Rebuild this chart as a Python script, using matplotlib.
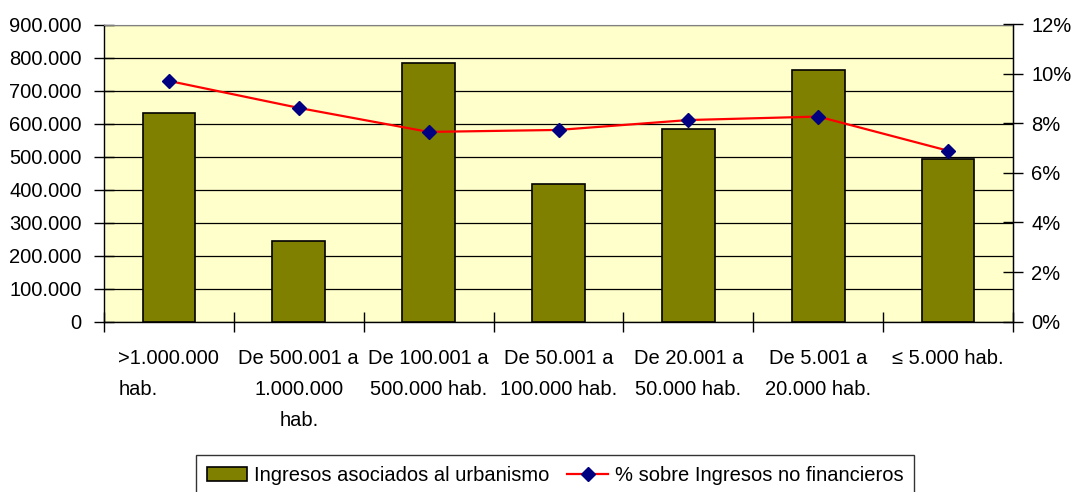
import matplotlib
matplotlib.use("Agg")
import matplotlib.pyplot as plt
import numpy as np
from matplotlib.ticker import FuncFormatter, MultipleLocator

categories = [
    ">1.000.000\nhab.",
    "De 500.001 a\n1.000.000\nhab.",
    "De 100.001 a\n500.000 hab.",
    "De 50.001 a\n100.000 hab.",
    "De 20.001 a\n50.000 hab.",
    "De 5.001 a\n20.000 hab.",
    "≤ 5.000 hab.",
]
ingresos = [631000, 244000, 783000, 417000, 583000, 761000, 491000]
pct_no_fin = [9.72, 8.63, 7.66, 7.74, 8.14, 8.28, 6.90]

plt.rcParams["font.family"] = ["Liberation Sans", "DejaVu Sans"]
fs = 14.5

fig = plt.figure(figsize=(10.73, 4.92), dpi=100)
ax = fig.add_axes([104 / 1073, 1 - 321.5 / 492, 909 / 1073, 297 / 492])
ax.set_facecolor("#FFFFCC")

x = np.arange(len(categories))
bars = ax.bar(x, ingresos, width=0.405, color="#808000", edgecolor="black",
              linewidth=1.2, zorder=3, label="Ingresos asociados al urbanismo")
ax.set_xlim(-0.5, len(categories) - 0.5)
ax.set_ylim(0, 900000)
ax.yaxis.set_major_locator(MultipleLocator(100000))
ax.yaxis.set_major_formatter(FuncFormatter(lambda v, p: f"{int(v):,}".replace(",", ".")))
ax.grid(axis="y", color="black", lw=0.9, zorder=1)
ax.set_axisbelow(True)

# category boundary ticks, labels centred on the bars
ax.set_xticks(np.arange(len(categories) + 1) - 0.5)
ax.set_xticklabels([])
ax.set_xticks(x, minor=True)
ax.set_xticklabels(categories, minor=True, fontsize=fs, linespacing=1.8)
ax.tick_params(axis="x", which="major", direction="inout", length=14, width=1)
ax.tick_params(axis="x", which="minor", length=0, pad=20)
for lab in ax.get_xticklabels(minor=True)[:1]:
    lab.set_multialignment("left")
ax.tick_params(axis="y", direction="inout", length=14, width=1, labelsize=fs, pad=9)

for side in ["left", "bottom", "right"]:
    ax.spines[side].set_color("black")
    ax.spines[side].set_linewidth(1)
ax.spines["top"].set_color("#808080")

ax2 = ax.twinx()
line, = ax2.plot(x, pct_no_fin, color="#FF0000", lw=1.6, marker="D", ms=7.5,
                 mfc="#000080", mec="#000080", zorder=5,
                 label="% sobre Ingresos no financieros")
ax2.set_ylim(0, 12)
ax2.yaxis.set_major_locator(MultipleLocator(2))
ax2.yaxis.set_major_formatter(FuncFormatter(lambda v, p: f"{v:.0f}%"))
ax2.tick_params(axis="y", direction="inout", length=14, width=1, labelsize=fs, pad=6)
for side in ["left", "top", "bottom"]:
    ax2.spines[side].set_visible(False)
ax2.spines["right"].set_color("black")

leg = fig.legend([bars, line],
                 ["Ingresos asociados al urbanismo", "% sobre Ingresos no financieros"],
                 loc="upper center", bbox_to_anchor=(555 / 1073, 1 - 455 / 492),
                 ncol=2, fontsize=fs, frameon=True, fancybox=False,
                 handlelength=2.0, handletextpad=0.35, columnspacing=0.9,
                 borderpad=0.55, borderaxespad=0)
leg.get_frame().set_edgecolor("black")
leg.get_frame().set_linewidth(1)

fig.savefig("out.png", dpi=100)
